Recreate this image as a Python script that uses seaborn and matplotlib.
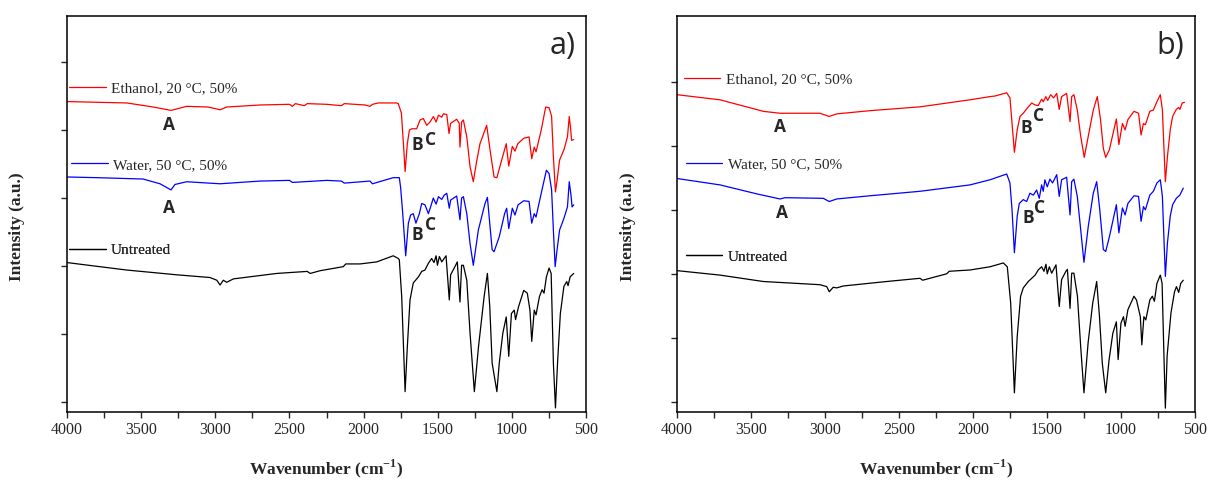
import matplotlib
matplotlib.use("Agg")
import matplotlib.pyplot as plt
from matplotlib.ticker import MultipleLocator
import seaborn as sns
import pandas as pd

# ---------------- data ----------------
labels = ["Ethanol, 20 °C, 50%", "Water, 50 °C, 50%", "Untreated"]
colors = ["#ff0000", "#0000ff", "#000000"]
xticks = [4000, 3500, 3000, 2500, 2000, 1500, 1000, 500]

# panel a) ethanol
a_eth_wn = [4000, 3800, 3597, 3418, 3299, 3193, 3050, 2968, 2923, 2698, 2500, 2480, 2460, 2400, 2380, 2249, 2150,
            2130, 1990, 1957, 1940, 1900, 1777, 1766, 1745, 1730, 1720, 1705, 1691, 1675, 1642, 1619, 1597, 1574,
            1552, 1529, 1511, 1495, 1473, 1462, 1439, 1424, 1413, 1372, 1355, 1350, 1339, 1327, 1304, 1282, 1260,
            1240, 1215, 1170, 1144, 1120, 1101, 1075, 1038, 1021, 997, 979, 960, 920, 884, 866, 849, 837, 802, 772,
            749, 732, 720, 706, 695, 678, 649, 625, 613, 605, 597, 583]
a_eth_int = [4.42, 4.41, 4.40, 4.34, 4.29, 4.35, 4.34, 4.30, 4.34, 4.37, 4.38, 4.35, 4.39, 4.36, 4.39, 4.38, 4.36,
             4.39, 4.37, 4.35, 4.38, 4.40, 4.40, 4.39, 4.25, 3.75, 3.39, 3.80, 4.00, 4.02, 4.02, 4.15, 4.17, 4.07,
             4.12, 4.20, 4.12, 4.22, 4.19, 4.24, 4.23, 3.95, 4.10, 4.16, 4.10, 3.75, 4.12, 4.15, 3.90, 3.46, 3.24,
             3.51, 3.80, 4.07, 3.66, 3.31, 3.30, 3.51, 3.80, 3.47, 3.76, 3.69, 3.80, 3.88, 3.90, 3.58, 3.75, 3.68,
             4.00, 4.34, 4.33, 4.20, 3.61, 3.09, 3.26, 3.56, 3.71, 3.90, 4.20, 4.05, 3.85, 3.86]

# panel a) water
a_wat_wn = [4000, 3800, 3487, 3373, 3299, 3272, 3193, 2968, 2698, 2500, 2480, 2249, 2150, 2130, 1957, 1940, 1800,
            1759, 1750, 1736, 1716, 1698, 1683, 1665, 1647, 1624, 1608, 1586, 1563, 1548, 1530, 1511, 1495, 1473,
            1457, 1439, 1422, 1413, 1372, 1350, 1339, 1327, 1304, 1282, 1260, 1226, 1181, 1165, 1133, 1120, 1085,
            1049, 1035, 1021, 997, 979, 958, 920, 884, 866, 849, 837, 802, 767, 749, 732, 720, 708, 695, 678, 649,
            625, 613, 601, 594, 583]
a_wat_int = [3.31, 3.30, 3.28, 3.21, 3.12, 3.20, 3.24, 3.21, 3.25, 3.26, 3.23, 3.26, 3.25, 3.22, 3.25, 3.21, 3.30,
             3.30, 3.15, 2.77, 2.15, 2.63, 2.75, 2.77, 2.63, 2.77, 2.92, 2.90, 2.77, 2.87, 3.00, 2.91, 3.02, 2.98,
             3.04, 3.07, 2.85, 2.97, 3.03, 2.68, 3.00, 3.02, 2.77, 2.33, 2.01, 2.53, 2.92, 3.01, 2.24, 2.21, 2.43,
             2.77, 2.85, 2.55, 2.85, 2.75, 2.90, 2.96, 2.95, 2.63, 2.77, 2.72, 3.07, 3.41, 3.36, 3.12, 2.53, 1.99,
             2.24, 2.53, 2.70, 2.87, 3.24, 3.04, 2.87, 2.90]

# panel a) untreated
a_unt_wn = [4000, 3597, 3260, 3036, 2990, 2968, 2946, 2923, 2878, 2586, 2380, 2360, 2294, 2137, 2120, 2024, 1911,
            1800, 1766, 1759, 1743, 1720, 1705, 1687, 1665, 1630, 1608, 1586, 1563, 1541, 1525, 1511, 1502, 1489,
            1473, 1444, 1422, 1413, 1384, 1368, 1350, 1339, 1327, 1304, 1282, 1253, 1225, 1187, 1165, 1149, 1133,
            1101, 1085, 1061, 1038, 1021, 1003, 984, 975, 955, 920, 896, 878, 866, 849, 837, 814, 796, 783, 767,
            749, 735, 720, 706, 692, 673, 649, 630, 621, 607, 583]
a_unt_int = [2.05, 1.94, 1.87, 1.83, 1.79, 1.72, 1.79, 1.76, 1.81, 1.89, 1.92, 1.89, 1.93, 1.99, 2.03, 2.03, 2.06,
             2.15, 2.11, 2.09, 1.55, 0.15, 0.81, 1.50, 1.75, 1.84, 1.92, 1.94, 2.04, 2.11, 2.05, 2.15, 2.01, 2.14,
             2.06, 2.15, 1.50, 1.87, 1.99, 2.06, 1.47, 2.01, 2.01, 1.79, 1.01, 0.15, 0.81, 1.55, 1.89, 1.40, 0.57,
             0.15, 0.57, 1.01, 1.25, 0.67, 1.30, 1.35, 1.21, 1.40, 1.64, 1.60, 1.35, 0.89, 1.35, 1.28, 1.55, 1.65,
             1.60, 1.84, 1.97, 1.89, 0.57, -0.09, 0.57, 1.30, 1.70, 1.77, 1.71, 1.84, 1.89]

# panel b) ethanol
b_eth_wn = [4000, 3709, 3417, 3304, 3034, 2971, 2921, 2696, 2358, 2020, 1885, 1850, 1772, 1750, 1738, 1720, 1701,
            1682, 1660, 1626, 1603, 1581, 1559, 1536, 1525, 1507, 1495, 1475, 1455, 1434, 1417, 1401, 1367, 1344,
            1333, 1318, 1295, 1272, 1248, 1221, 1187, 1160, 1138, 1119, 1103, 1078, 1048, 1031, 1014, 990, 972,
            953, 912, 881, 864, 848, 835, 805, 781, 757, 734, 720, 710, 700, 686, 667, 651, 626, 610, 602, 586, 571]
b_eth_int = [4.80, 4.72, 4.54, 4.51, 4.51, 4.46, 4.50, 4.55, 4.61, 4.72, 4.77, 4.78, 4.83, 4.75, 4.41, 3.90, 4.25,
             4.46, 4.51, 4.61, 4.67, 4.64, 4.63, 4.73, 4.69, 4.77, 4.71, 4.80, 4.75, 4.82, 4.57, 4.77, 4.82, 4.38,
             4.77, 4.80, 4.56, 4.15, 3.82, 4.15, 4.56, 4.77, 4.41, 3.96, 3.82, 3.94, 4.25, 4.42, 4.02, 4.35, 4.25,
             4.41, 4.54, 4.51, 4.17, 4.35, 4.33, 4.54, 4.56, 4.69, 4.80, 4.56, 3.99, 3.44, 3.83, 4.25, 4.46, 4.57,
             4.60, 4.57, 4.67, 4.68]

# panel b) water
b_wat_wn = [4000, 3709, 3461, 3304, 3270, 3011, 2971, 2921, 2696, 2358, 2020, 1885, 1772, 1750, 1736, 1720, 1701,
            1687, 1660, 1637, 1615, 1592, 1570, 1552, 1536, 1525, 1514, 1498, 1480, 1462, 1434, 1417, 1401, 1367,
            1344, 1333, 1318, 1295, 1272, 1250, 1221, 1187, 1164, 1143, 1119, 1103, 1078, 1048, 1031, 1014, 990,
            972, 953, 912, 881, 864, 848, 835, 805, 781, 757, 734, 720, 710, 700, 686, 667, 651, 626, 602, 579]
b_wat_int = [3.49, 3.39, 3.25, 3.17, 3.19, 3.18, 3.13, 3.17, 3.22, 3.29, 3.39, 3.47, 3.56, 3.42, 3.00, 2.33, 2.90,
             3.10, 3.16, 3.13, 3.26, 3.23, 3.31, 3.18, 3.39, 3.29, 3.47, 3.36, 3.48, 3.42, 3.55, 3.21, 3.47, 3.51,
             2.92, 3.44, 3.48, 3.21, 2.69, 2.18, 2.74, 3.26, 3.44, 3.00, 2.38, 2.35, 2.58, 2.90, 3.08, 2.64, 3.03,
             2.92, 3.10, 3.22, 3.21, 2.82, 3.05, 3.00, 3.23, 3.29, 3.42, 3.47, 3.21, 2.58, 1.96, 2.48, 2.90, 3.08,
             3.18, 3.23, 3.34]

# panel b) untreated
b_unt_wn = [4000, 3709, 3417, 3034, 2988, 2971, 2944, 2921, 2876, 2583, 2358, 2340, 2178, 2160, 2020, 1885, 1795,
            1768, 1745, 1731, 1720, 1701, 1678, 1660, 1626, 1603, 1580, 1559, 1536, 1520, 1507, 1498, 1484, 1468,
            1439, 1417, 1401, 1372, 1362, 1344, 1333, 1318, 1294, 1272, 1250, 1222, 1191, 1164, 1145, 1126, 1103,
            1080, 1055, 1031, 1019, 1000, 983, 972, 953, 912, 895, 869, 859, 845, 832, 805, 788, 774, 757, 734, 722,
            710, 700, 688, 662, 638, 625, 610, 596, 579]
b_unt_int = [2.05, 1.98, 1.88, 1.83, 1.80, 1.72, 1.79, 1.78, 1.81, 1.88, 1.93, 1.90, 2.00, 2.04, 2.06, 2.11, 2.17,
             2.11, 1.54, 0.76, 0.14, 1.02, 1.65, 1.78, 1.88, 1.93, 1.98, 2.06, 2.11, 2.04, 2.15, 2.00, 2.11, 2.01,
             2.14, 1.49, 1.91, 2.04, 2.07, 1.46, 2.01, 2.01, 1.65, 0.86, 0.14, 0.92, 1.54, 1.88, 1.33, 0.60, 0.14,
             0.66, 1.07, 1.25, 0.66, 1.23, 1.33, 1.18, 1.44, 1.65, 1.59, 1.33, 0.89, 1.33, 1.28, 1.59, 1.65, 1.57,
             1.85, 1.98, 1.85, 0.76, -0.10, 0.72, 1.39, 1.72, 1.80, 1.71, 1.85, 1.90]

panels = [
    dict(tag="a)", ylim=(-0.15, 5.68),
         curves=[(a_eth_wn, a_eth_int), (a_wat_wn, a_wat_int), (a_unt_wn, a_unt_int)],
         leg_pos=[(0.004, 0.818), (0.008, 0.624), (0.004, 0.409)],
         marks=[("A", 3312, 4.08), ("A", 3312, 2.86), ("B", 1640, 3.78), ("C", 1545, 3.86),
                ("B", 1640, 2.46), ("C", 1545, 2.60)]),
    dict(tag="b)", ylim=(-0.16, 6.03),
         curves=[(b_eth_wn, b_eth_int), (b_wat_wn, b_wat_int), (b_unt_wn, b_unt_int)],
         leg_pos=[(0.013, 0.84), (0.017, 0.625), (0.017, 0.392)],
         marks=[("A", 3304, 4.30), ("A", 3293, 2.95), ("B", 1637, 4.28), ("C", 1559, 4.46),
                ("B", 1626, 2.88), ("C", 1547, 3.03)]),
]

# ---------------- style ----------------
sns.set_style("ticks")
plt.rcParams["font.family"] = ["Liberation Serif", "DejaVu Sans"]
plt.rcParams["mathtext.fontset"] = "custom"
plt.rcParams["mathtext.rm"] = "Liberation Serif"
plt.rcParams["mathtext.bf"] = "Liberation Serif:bold"

fig = plt.figure(figsize=(12.08, 4.82), dpi=100)
rects = [[0.0555, 0.1452, 0.4296, 0.8216], [0.5604, 0.1452, 0.4288, 0.8216]]
ylab_x = [-0.081, -0.079]

for rect, p, yx in zip(rects, panels, ylab_x):
    ax = fig.add_axes(rect)
    handles = []
    for (wn, val), col in zip(p["curves"], colors):
        df = pd.DataFrame({"wn": wn, "I": val})
        sns.lineplot(data=df, x="wn", y="I", ax=ax, color=col, lw=0.9, sort=False,
                     estimator=None, legend=False)
        handles.append(ax.lines[-1])
    ax.set_xlim(4000, 500)
    ax.set_ylim(*p["ylim"])
    ax.set_xticks(xticks)
    ax.set_xticklabels([str(t) for t in xticks])
    ax.xaxis.set_minor_locator(MultipleLocator(250))
    ax.set_yticks([0, 1, 2, 3, 4, 5])
    ax.set_yticklabels([])
    ax.tick_params(axis="both", which="both", direction="out", length=4, width=1,
                   top=False, right=False, labelsize=11.5, pad=3)
    for s in ax.spines.values():
        s.set_visible(True)
        s.set_linewidth(1.1)
        s.set_color("black")

    for h, lab, pos in zip(handles, labels, p["leg_pos"]):
        leg = ax.legend(handles=[h], labels=[lab], loc="center left", bbox_to_anchor=pos,
                        frameon=False, fontsize=11, handlelength=2.4, handletextpad=0.35,
                        borderpad=0, borderaxespad=0)
        ax.add_artist(leg)

    for txt, x, y in p["marks"]:
        ax.text(x, y, txt, ha="center", va="center", fontsize=12.5, fontweight="bold",
                family=["Open Sans", "DejaVu Sans"])

    ax.text(0.98, 0.925, p["tag"], transform=ax.transAxes, ha="right", va="center",
            fontsize=22, family=["Open Sans", "DejaVu Sans"])

    ax.set_ylabel("Intensity (a.u.)", fontsize=12.5, fontweight="bold")
    ax.yaxis.set_label_coords(yx, 0.467)
    ax.set_xlabel(r"Wavenumber (cm$^{\mathbf{-1}}$)", fontsize=12.5, fontweight="bold")
    ax.xaxis.set_label_coords(0.5, -0.115)

fig.savefig("out.png", dpi=100)
